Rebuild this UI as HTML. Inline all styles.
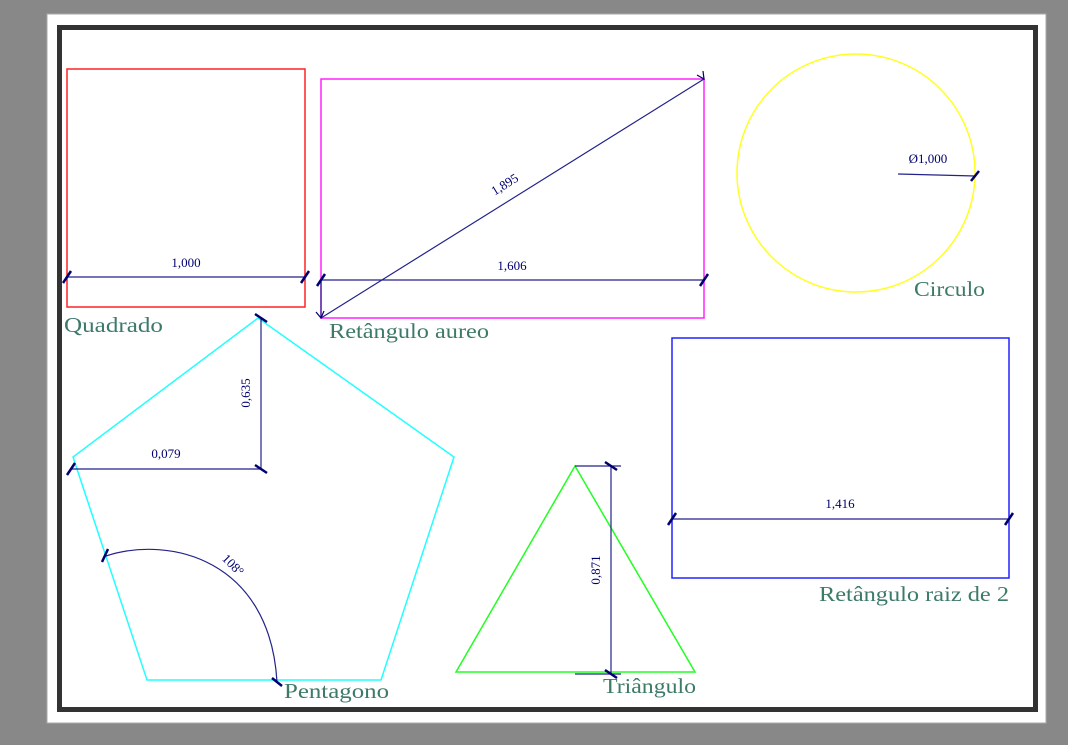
<!DOCTYPE html>
<html><head><meta charset="utf-8"><style>
html,body{margin:0;padding:0;background:#888;}
svg{display:block;}
.l{font-family:"Liberation Serif",serif;font-size:21px;fill:#3d7a68;}
.d{font-family:"Liberation Serif",serif;font-size:13px;fill:#00006e;}
</style></head><body>
<svg width="1068" height="745" viewBox="0 0 1068 745" xmlns="http://www.w3.org/2000/svg">
<rect x="0" y="0" width="1068" height="745" fill="#888"/>
<rect x="47" y="14" width="999" height="709" fill="#fff" stroke="#aaa" stroke-width="1"/>
<rect x="59.5" y="27.5" width="976" height="682" fill="none" stroke="#333" stroke-width="5"/>
<g fill="none" stroke-width="1.5">
<rect x="67" y="69" width="238" height="238" stroke="#f22"/>
<rect x="321" y="79" width="383" height="239" stroke="#f2f"/>
<circle cx="856" cy="173" r="119" stroke="#ff2"/>
<rect x="672" y="338" width="337" height="240" stroke="#22f"/>
<polygon points="575,466 456,672 695,672" stroke="#2f2"/>
<polygon points="258,318 454,457 381,680 147,680 73,457" stroke="#2ff"/>
</g>
<g fill="none" stroke="#22228a" stroke-width="1.2">
<line x1="67" y1="277" x2="305" y2="277"/>
<line x1="321" y1="280" x2="704" y2="280"/>
<line x1="321" y1="280" x2="321" y2="318"/>
<line x1="321" y1="318" x2="704" y2="79"/>
<line x1="898" y1="174" x2="975" y2="176"/>
<line x1="672" y1="519" x2="1009" y2="519"/>
<line x1="611" y1="466" x2="611" y2="674"/>
<line x1="575" y1="466" x2="621" y2="466"/>
<line x1="575" y1="674" x2="621" y2="674"/>
<line x1="261" y1="318" x2="261" y2="469"/>
<line x1="71" y1="469" x2="261" y2="469"/>
<path d="M106,556 C170,535 270,560 277,682"/>
</g>
<g stroke="#00006e" stroke-width="2.5">
<line x1="63" y1="283" x2="71" y2="271"/>
<line x1="301" y1="283" x2="309" y2="271"/>
<line x1="317" y1="286" x2="325" y2="274"/>
<line x1="700" y1="286" x2="708" y2="274"/>
<line x1="971" y1="181" x2="979" y2="171"/>
<line x1="668" y1="525" x2="676" y2="513"/>
<line x1="1005" y1="525" x2="1013" y2="513"/>
<line x1="605" y1="462" x2="617" y2="470"/>
<line x1="605" y1="670" x2="617" y2="678"/>
<line x1="255" y1="314" x2="267" y2="322"/>
<line x1="255" y1="465" x2="267" y2="473"/>
<line x1="67" y1="475" x2="75" y2="463"/>
<line x1="102" y1="562" x2="108" y2="549"/>
<line x1="272" y1="678" x2="282" y2="686"/>
</g>
<g fill="none" stroke="#00006e" stroke-width="1.2">
<path d="M316,312 L321,318 L324,311"/>
<path d="M697,75 L704,79 L703,71"/>
</g>
<text class="d" x="186" y="267" text-anchor="middle">1,000</text>
<text class="d" x="512" y="270" text-anchor="middle">1,606</text>
<text class="d" x="507" y="188" text-anchor="middle" transform="rotate(-32 507 188)">1,895</text>
<text class="d" x="928" y="163" text-anchor="middle">Ø1,000</text>
<text class="d" x="840" y="508" text-anchor="middle">1,416</text>
<text class="d" x="600" y="570" text-anchor="middle" transform="rotate(-90 600 570)">0,871</text>
<text class="d" x="250" y="393" text-anchor="middle" transform="rotate(-90 250 393)">0,635</text>
<text class="d" x="166" y="458" text-anchor="middle">0,079</text>
<text class="d" x="230" y="568" text-anchor="middle" transform="rotate(45 230 568)">108°</text>
<text class="l" x="64" y="332" textLength="99" lengthAdjust="spacingAndGlyphs">Quadrado</text>
<text class="l" x="329" y="338" textLength="160" lengthAdjust="spacingAndGlyphs">Retângulo aureo</text>
<text class="l" x="914" y="296" textLength="71" lengthAdjust="spacingAndGlyphs">Circulo</text>
<text class="l" x="819" y="601" textLength="190" lengthAdjust="spacingAndGlyphs">Retângulo raiz de 2</text>
<text class="l" x="284" y="698" textLength="105" lengthAdjust="spacingAndGlyphs">Pentagono</text>
<text class="l" x="603" y="693" textLength="93" lengthAdjust="spacingAndGlyphs">Triângulo</text>
</svg>
</body></html>
